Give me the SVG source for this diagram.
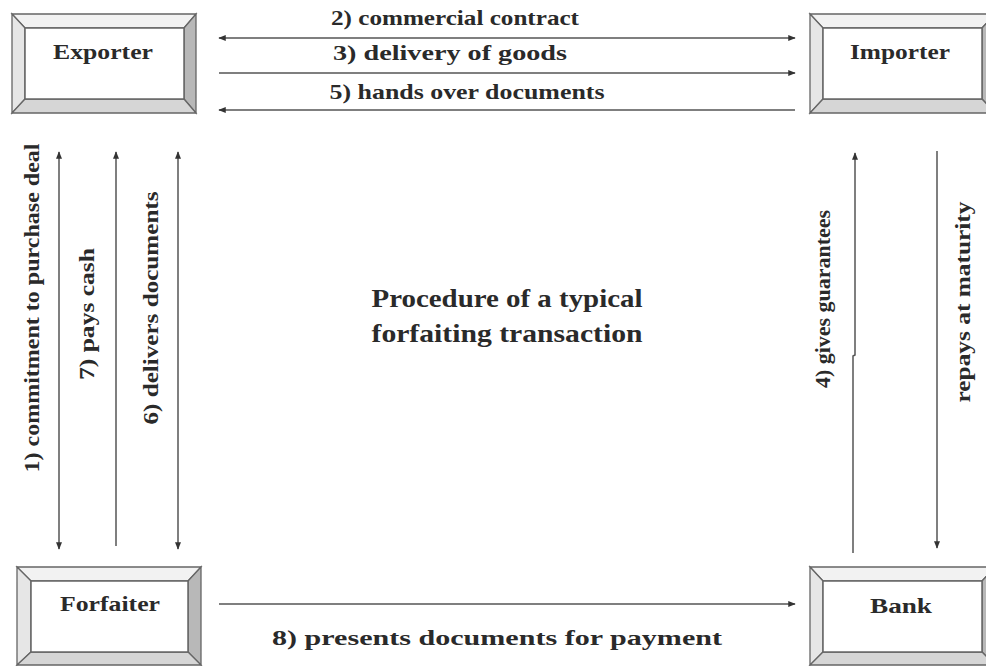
<svg xmlns="http://www.w3.org/2000/svg" width="986" height="666" viewBox="0 0 986 666">
<defs>
<style>
.bg{fill:#ffffff}
.top{fill:#f2f2f2;stroke:#666;stroke-width:1.3}
.left{fill:#e6e6e6;stroke:#666;stroke-width:1.3}
.right{fill:#b8b8b8;stroke:#666;stroke-width:1.3}
.bot{fill:#d6d6d6;stroke:#666;stroke-width:1.3}
.inner{fill:#ffffff;stroke:#666;stroke-width:1.5}
.nt{font-family:"Liberation Serif",serif;font-weight:bold;font-size:22px;fill:#2a2a2a;text-anchor:middle}
.lbl{font-family:"Liberation Serif",serif;font-weight:bold;font-size:21px;fill:#2a2a2a;text-anchor:middle}
.ttl{font-family:"Liberation Serif",serif;font-weight:bold;font-size:25px;fill:#2a2a2a;text-anchor:middle}
.ln{stroke:#555;stroke-width:1.5;fill:none}
</style>
<marker id="ah" viewBox="0 0 10 8" refX="9" refY="4" markerWidth="8" markerHeight="6" markerUnits="userSpaceOnUse" orient="auto-start-reverse">
<path d="M0,0 L10,4 L0,8 Z" fill="#333"/>
</marker>
</defs>
<rect class="bg" x="0" y="0" width="986" height="666"/>

<g id="exporter">
<polygon class="top" points="12,14 196,14 184,28 25,28"/>
<polygon class="left" points="12,14 25,28 25,99 12,113"/>
<polygon class="right" points="196,14 196,113 184,99 184,28"/>
<polygon class="bot" points="12,113 196,113 184,99 25,99"/>
<rect class="inner" x="25" y="28" width="159" height="71"/>
<text class="nt" x="103" y="59" textLength="100" lengthAdjust="spacingAndGlyphs">Exporter</text>
</g>

<g id="importer">
<polygon class="top" points="810,14 995,14 982,28 823,28"/>
<polygon class="left" points="810,14 823,28 823,99 810,113"/>
<polygon class="right" points="995,14 995,113 982,99 982,28"/>
<polygon class="bot" points="810,113 995,113 982,99 823,99"/>
<rect class="inner" x="823" y="28" width="159" height="71"/>
<text class="nt" x="900" y="59" textLength="100" lengthAdjust="spacingAndGlyphs">Importer</text>
</g>

<g id="forfaiter">
<polygon class="top" points="17,567 201,567 188,581 31,581"/>
<polygon class="left" points="17,567 31,581 31,652 17,665"/>
<polygon class="right" points="201,567 201,665 188,652 188,581"/>
<polygon class="bot" points="17,665 201,665 188,652 31,652"/>
<rect class="inner" x="31" y="581" width="157" height="71"/>
<text class="nt" x="110" y="611" textLength="100" lengthAdjust="spacingAndGlyphs">Forfaiter</text>
</g>

<g id="bank">
<polygon class="top" points="810,567 995,567 982,581 823,581"/>
<polygon class="left" points="810,567 823,581 823,652 810,665"/>
<polygon class="right" points="995,567 995,665 982,652 982,581"/>
<polygon class="bot" points="810,665 995,665 982,652 823,652"/>
<rect class="inner" x="823" y="581" width="159" height="71"/>
<text class="nt" x="901" y="613" textLength="62" lengthAdjust="spacingAndGlyphs">Bank</text>
</g>

<g id="connectors">
<line class="ln" x1="219" y1="38" x2="795" y2="38" marker-start="url(#ah)" marker-end="url(#ah)"/>
<line class="ln" x1="219" y1="73" x2="795" y2="73" marker-end="url(#ah)"/>
<line class="ln" x1="795" y1="110" x2="219" y2="110" marker-end="url(#ah)"/>
<line class="ln" x1="59" y1="152" x2="59" y2="549" marker-start="url(#ah)" marker-end="url(#ah)"/>
<line class="ln" x1="116" y1="546" x2="116" y2="152" marker-end="url(#ah)"/>
<line class="ln" x1="178" y1="152" x2="178" y2="549" marker-start="url(#ah)" marker-end="url(#ah)"/>
<polyline class="ln" points="853,553 853,356 855,355 855,153" marker-end="url(#ah)"/>
<line class="ln" x1="937" y1="151" x2="937" y2="548" marker-end="url(#ah)"/>
<line class="ln" x1="219" y1="604" x2="795" y2="604" marker-end="url(#ah)"/>
</g>

<g id="labels">
<text class="lbl" x="455" y="25" textLength="248" lengthAdjust="spacingAndGlyphs">2) commercial contract</text>
<text class="lbl" x="450" y="60" textLength="234" lengthAdjust="spacingAndGlyphs">3) delivery of goods</text>
<text class="lbl" x="467" y="99" textLength="275" lengthAdjust="spacingAndGlyphs">5) hands over documents</text>
<text class="lbl" x="497" y="645" textLength="450" lengthAdjust="spacingAndGlyphs">8) presents documents for payment</text>
<text class="lbl" transform="translate(39,308) rotate(-90)" textLength="329" lengthAdjust="spacingAndGlyphs">1) commitment to purchase deal</text>
<text class="lbl" transform="translate(94,314) rotate(-90)" textLength="132" lengthAdjust="spacingAndGlyphs">7) pays cash</text>
<text class="lbl" transform="translate(158,308) rotate(-90)" textLength="233" lengthAdjust="spacingAndGlyphs">6) delivers documents</text>
<text class="lbl" transform="translate(830,299) rotate(-90)" textLength="178" lengthAdjust="spacingAndGlyphs">4) gives guarantees</text>
<text class="lbl" transform="translate(970,302) rotate(-90)" textLength="201" lengthAdjust="spacingAndGlyphs">repays at maturity</text>
<text class="ttl" x="507" y="307" textLength="271" lengthAdjust="spacingAndGlyphs">Procedure of a typical</text>
<text class="ttl" x="507" y="342" textLength="271" lengthAdjust="spacingAndGlyphs">forfaiting transaction</text>
</g>
</svg>
